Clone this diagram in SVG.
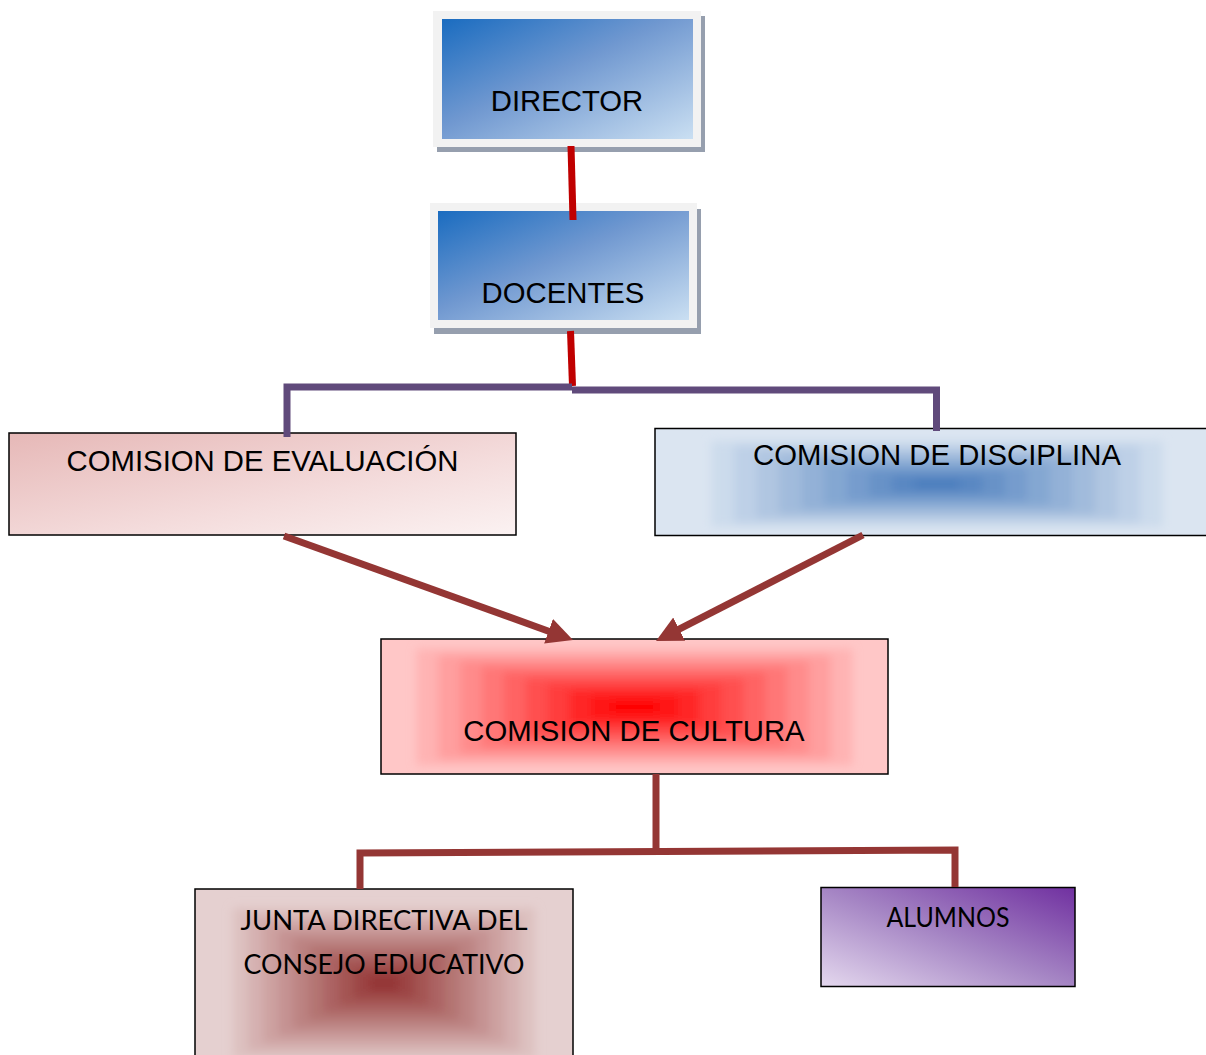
<svg xmlns="http://www.w3.org/2000/svg" width="1206" height="1055" viewBox="0 0 1206 1055">
<style>
.arial{font-family:"Liberation Sans",Arial,sans-serif;font-size:29.3px;fill:#000;text-anchor:middle}
.cal{font-family:Lato,"Open Sans",sans-serif;font-size:27px;fill:#000;text-anchor:middle}
.box{stroke:#000;stroke-width:1.5}
.frame{fill:#f2f2f2}
.shadow{fill:#969fae}
.red{stroke:#c00000;stroke-width:7;fill:none}
.purple{stroke:#604a7b;stroke-width:7;fill:none;stroke-linejoin:miter}
.brown{stroke:#943634;stroke-width:7;fill:none;stroke-linejoin:miter}
.soft{filter:url(#blur)}
</style>
<defs>
<linearGradient id="gBlue" x1="0" y1="0" x2="1" y2="1">
<stop offset="0" stop-color="#1a6cc0"/>
<stop offset="0.45" stop-color="#7098d0"/>
<stop offset="1" stop-color="#cadff2"/>
</linearGradient>
<linearGradient id="gEval" x1="0" y1="0" x2="1" y2="1">
<stop offset="0" stop-color="#e6b8b7"/>
<stop offset="0.6" stop-color="#f4dcdc"/>
<stop offset="1" stop-color="#fbf2f2"/>
</linearGradient>
<linearGradient id="gAlum" x1="0" y1="1" x2="1" y2="0">
<stop offset="0" stop-color="#e4d8ee"/>
<stop offset="0.5" stop-color="#a585c4"/>
<stop offset="1" stop-color="#7030a0"/>
</linearGradient>
<filter id="blur" x="-0.2" y="-0.3" width="1.4" height="1.6">
<feGaussianBlur stdDeviation="5"/>
</filter>
<clipPath id="cDisc"><rect x="655" y="428.5" width="564" height="107"/></clipPath>
<clipPath id="cCult"><rect x="381" y="639" width="507" height="135"/></clipPath>
<clipPath id="cJunta"><rect x="195" y="889" width="378" height="188"/></clipPath>
<marker id="arr" markerUnits="userSpaceOnUse" markerWidth="28" markerHeight="28" refX="6" refY="13" orient="auto">
<path d="M0,0 L26,13 L0,26 z" fill="#943634"/>
</marker>
</defs>

<g id="director">
<rect class="shadow" x="437" y="16" width="268" height="136"/>
<rect class="frame" x="433" y="11" width="268" height="136"/>
<rect x="442" y="19" width="251" height="120" fill="url(#gBlue)"/>
<text class="arial" x="567" y="111">DIRECTOR</text>
</g>

<g id="docentes">
<rect class="shadow" x="434" y="209" width="267" height="125"/>
<rect class="frame" x="430" y="203" width="267" height="125"/>
<rect x="438" y="211" width="251" height="109" fill="url(#gBlue)"/>
<text class="arial" x="563" y="303">DOCENTES</text>
</g>

<g id="evaluacion">
<rect class="box" x="9" y="433" width="507" height="102" fill="url(#gEval)"/>
<text class="arial" x="262.5" y="471">COMISION DE EVALUACIÓN</text>
</g>

<g id="disciplina">
<rect x="655" y="428.5" width="564" height="107" fill="#dbe5f1"/>
<g clip-path="url(#cDisc)"><g class="soft">
<rect x="711.4" y="441.2" width="451.2" height="85.6" fill="#ccdbec"/>
<rect x="734" y="445.5" width="406" height="77" fill="#bed0e7"/>
<rect x="756.5" y="449.8" width="361" height="68.4" fill="#b0c6e1"/>
<rect x="779.1" y="454" width="315.8" height="60" fill="#a1bbdc"/>
<rect x="801.6" y="458.3" width="270.8" height="51.4" fill="#93b1d7"/>
<rect x="824.2" y="462.6" width="225.6" height="42.8" fill="#84a7d2"/>
<rect x="846.8" y="466.9" width="180.4" height="34.2" fill="#769ccd"/>
<rect x="869.3" y="471.2" width="135.4" height="25.6" fill="#6792c7"/>
<rect x="891.9" y="475.4" width="90.2" height="17.2" fill="#5987c2"/>
<rect x="914.4" y="479.7" width="45.2" height="8.6" fill="#4a7dbd"/>
</g></g>
<rect class="box" x="655" y="428.5" width="564" height="107" fill="none"/>
<text class="arial" x="937" y="465">COMISION DE DISCIPLINA</text>
</g>

<g id="cultura">
<rect x="381" y="639" width="507" height="135" fill="#ffc7c7"/>
<g clip-path="url(#cCult)"><g class="soft">
<rect x="416.5" y="648.9" width="436" height="116.2" fill="#ffb3b3"/>
<rect x="438.3" y="654.8" width="392.4" height="104.4" fill="#ff9f9f"/>
<rect x="460.1" y="660.6" width="348.8" height="92.8" fill="#ff8b8b"/>
<rect x="481.9" y="666.4" width="305.2" height="81.2" fill="#ff7777"/>
<rect x="503.7" y="672.2" width="261.6" height="69.6" fill="#ff6464"/>
<rect x="525.5" y="678" width="218" height="58" fill="#ff5050"/>
<rect x="547.3" y="683.8" width="174.4" height="46.4" fill="#ff3c3c"/>
<rect x="569.1" y="689.6" width="130.8" height="34.8" fill="#ff2828"/>
<rect x="590.9" y="695.4" width="87.2" height="23.2" fill="#ff1414"/>
<rect x="612.7" y="701.2" width="43.6" height="11.6" fill="#ff0000"/>
</g></g>
<rect class="box" x="381" y="639" width="507" height="135" fill="none"/>
<text class="arial" x="634" y="741">COMISION DE CULTURA</text>
</g>

<g id="junta">
<rect x="195" y="889" width="378" height="188" fill="#e5d0d0"/>
<g clip-path="url(#cJunta)"><g class="soft">
<rect x="232.8" y="907.8" width="302.4" height="150.4" fill="#ddc1c0"/>
<rect x="247.9" y="915.3" width="272.2" height="135.4" fill="#d5b1b1"/>
<rect x="263" y="922.8" width="242" height="120.4" fill="#cda2a1"/>
<rect x="278.2" y="930.4" width="211.6" height="105.2" fill="#c59292"/>
<rect x="293.3" y="937.9" width="181.4" height="90.2" fill="#bc8382"/>
<rect x="308.4" y="945.4" width="151.2" height="75.2" fill="#b47472"/>
<rect x="323.5" y="952.9" width="121" height="60.2" fill="#ac6463"/>
<rect x="338.6" y="960.4" width="90.8" height="45.2" fill="#a45553"/>
<rect x="353.8" y="968" width="60.4" height="30" fill="#9c4544"/>
<rect x="368.9" y="975.5" width="30.2" height="15" fill="#943634"/>
</g></g>
<rect class="box" x="195" y="889" width="378" height="188" fill="none"/>
<text class="cal" x="384" y="930" textLength="287" lengthAdjust="spacingAndGlyphs">JUNTA DIRECTIVA DEL</text>
<text class="cal" x="384" y="974" textLength="281" lengthAdjust="spacingAndGlyphs">CONSEJO EDUCATIVO</text>
</g>

<g id="alumnos">
<rect class="box" x="821" y="887.5" width="254" height="99" fill="url(#gAlum)"/>
<text class="cal" x="948" y="927" textLength="123" lengthAdjust="spacingAndGlyphs">ALUMNOS</text>
</g>

<g id="connectors">
<line class="red" x1="571" y1="146" x2="573" y2="220"/>
<line class="red" x1="570.5" y1="331" x2="572.5" y2="386"/>
<polyline class="purple" points="287,437 287,387 572,387"/>
<polyline class="purple" points="572,390 936.5,390 936.5,431"/>
<line class="brown" x1="284" y1="536" x2="554.2" y2="633.2" marker-end="url(#arr)"/>
<line class="brown" x1="863" y1="535" x2="673.8" y2="631.9" marker-end="url(#arr)"/>
<line class="brown" x1="656" y1="774" x2="656" y2="852"/>
<polyline class="brown" points="360,889 360,853 955,850 955,887"/>
</g>
</svg>
